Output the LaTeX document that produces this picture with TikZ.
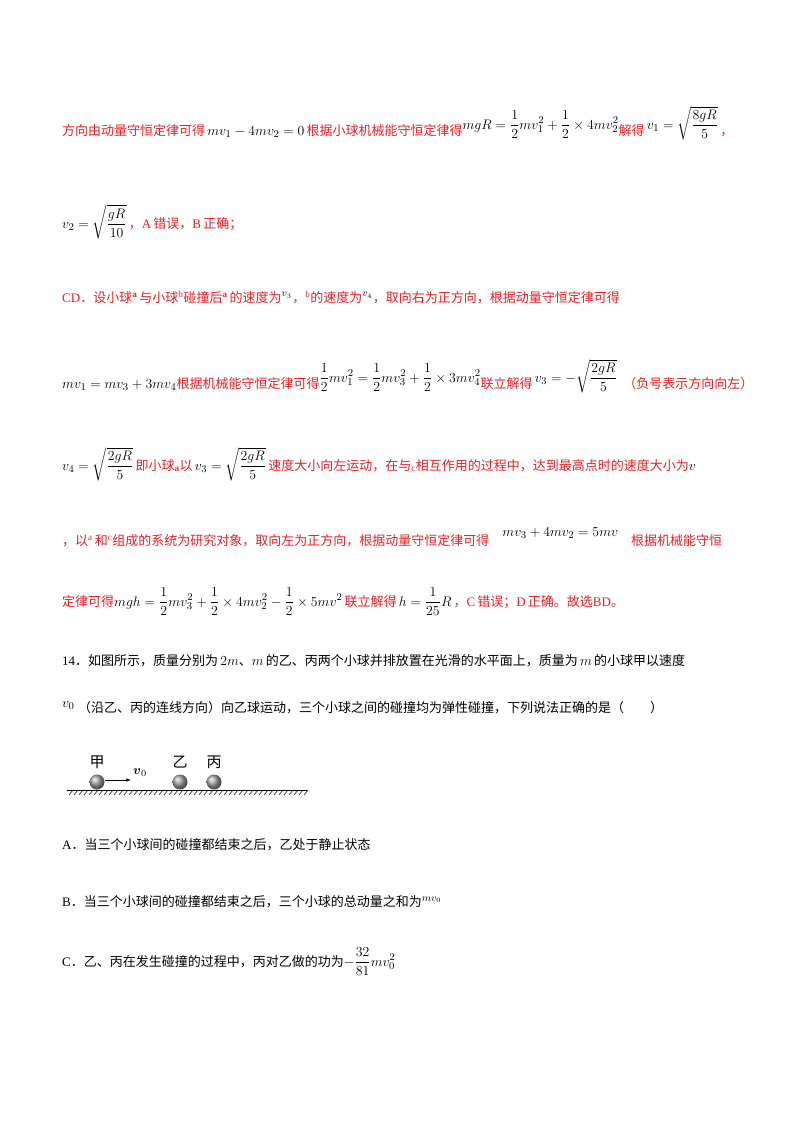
\documentclass[tikz,border=0pt]{standalone}
\usepackage{fontspec}
\usepackage{amsmath,graphicx}
\setmainfont{Liberation Serif}
\newfontfamily\cjk{Noto Sans CJK SC}
\definecolor{myred}{RGB}{235,30,35}
\newcommand{\M}[1]{\textcolor{black}{\scalebox{1.15}{$\displaystyle #1$}}}
\newcommand{\Ms}[1]{\textcolor{black}{\scalebox{1.15}{$#1$}}}
\begin{document}
\begin{tikzpicture}[x=1pt,y=-1pt,
  ln/.style={anchor=base west,inner sep=0pt,font=\fontsize{13}{15}\selectfont},
  rd/.style={ln,text=myred},
  bk/.style={ln,text=black}]
\useasboundingbox (0,0) rectangle (800,1132);
\newcommand{\C}[1]{{\cjk #1}}
\node[rd] (l1) at (62,135) {\C{方向由动量守恒定律可得}\,\Ms{mv_1-4mv_2=0}\,\C{根据小球机械能守恒定律得}\raisebox{1ex}{\M{mgR=\frac12mv_1^2+\frac12\times4mv_2^2}}\C{解得}\,\raisebox{1ex}{\M{v_1=\sqrt{\frac{8gR}{5}}}}\,\C{，}};
\node[rd] (l2) at (62,228) {\M{v_2=\sqrt{\frac{gR}{10}}}\,\C{，}A\,\C{错误，}B\,\C{正确；}};
\node[rd] (l3) at (62,302) {CD\C{．设小球}$^{\mathbf a}$\,\C{与小球}$^{\mathrm b}$\C{碰撞后}$^{\mathbf a}$\,\C{的速度为}\Ms{^{v_3}}\C{，}$^{\mathrm b}$\C{的速度为}\Ms{^{v_4}}\C{，取向右为正方向，根据动量守恒定律可得}};
\node[rd] (l4) at (62,388) {\Ms{mv_1=mv_3+3mv_4}\C{根据机械能守恒定律可得}\raisebox{1ex}{\M{\frac12mv_1^2=\frac12mv_3^2+\frac12\times3mv_4^2}}\C{联立解得}\,\raisebox{1ex}{\M{v_3=-\sqrt{\frac{2gR}{5}}}}\enspace\C{（负号表示方向向左）}};
\node[rd] (l5) at (62,470) {\M{v_4=\sqrt{\frac{2gR}{5}}}\,\C{即小球}$_{\mathbf a}$\C{以}\,\M{v_3=\sqrt{\frac{2gR}{5}}}\,\C{速度大小向左运动，在与}$_{\mathrm c}$\C{相互作用的过程中，达到最高点时的速度大小为}\Ms{v}};
\node[rd] (l6) at (62,545) {\C{，以}$^{\mathrm a}$\,\C{和}$^{\mathrm c}$\C{组成的系统为研究对象，取向左为正方向，根据动量守恒定律可得}\quad\raisebox{1.5ex}{\Ms{mv_3+4mv_2=5mv}}\quad\C{根据机械能守恒}};
\node[rd] (l7) at (62,606) {\C{定律可得}\M{mgh=\frac12mv_3^2+\frac12\times4mv_2^2-\frac12\times5mv^2}\,\C{联立解得}\,\M{h=\frac{1}{25}R}\,\C{，}C\,\C{错误；}D\,\C{正确。故选}BD\C{。}};
\node[bk] (l8) at (62,665) {14\C{．如图所示，质量分别为}\,\Ms{2m}\C{、}\Ms{m}\,\C{的乙、丙两个小球并排放置在光滑的水平面上，质量为}\,\Ms{m}\,\C{的小球甲以速度}};
\node[bk] (l9) at (62,712) {\raisebox{0.8ex}{\Ms{v_{0}}}\;\C{（沿乙、丙的连线方向）向乙球运动，三个小球之间的碰撞均为弹性碰撞，下列说法正确的是（\qquad）}};
% figure
\shade[ball color=gray!70] (97,782) circle (7.5);
\shade[ball color=gray!70] (180,782) circle (7.5);
\shade[ball color=gray!70] (214,782) circle (7.5);
\draw[line width=0.8pt] (67,790) -- (307,790);
\foreach \i in {0,...,47} \draw[line width=0.5pt] (69+5*\i,795) -- (73+5*\i,790);
\node[inner sep=0pt,font=\cjk\fontsize{15}{15}\selectfont] (jia) at (97,762) {甲};
\node[inner sep=0pt,font=\cjk\fontsize{15}{15}\selectfont] (yi) at (180,762) {乙};
\node[inner sep=0pt,font=\cjk\fontsize{15}{15}\selectfont] (bing) at (214,762) {丙};
\coordinate (a0) at (105,780);
\coordinate (a1) at (131,780);
\draw[-latex,line width=0.6pt] (a0) -- (a1);
\node[inner sep=0pt] (v0) at (140,773) {\scalebox{1.3}{$\boldsymbol{v}_0$}};
\node[bk] (oa) at (62,849) {A\C{．当三个小球间的碰撞都结束之后，乙处于静止状态}};
\node[bk] (ob) at (62,906) {B\C{．当三个小球间的碰撞都结束之后，三个小球的总动量之和为}\Ms{^{mv_0}}};
\node[bk] (oc) at (62,966) {C\C{．乙、丙在发生碰撞的过程中，丙对乙做的功为}\M{-\frac{32}{81}mv_0^2}};
\end{tikzpicture}
\end{document}
